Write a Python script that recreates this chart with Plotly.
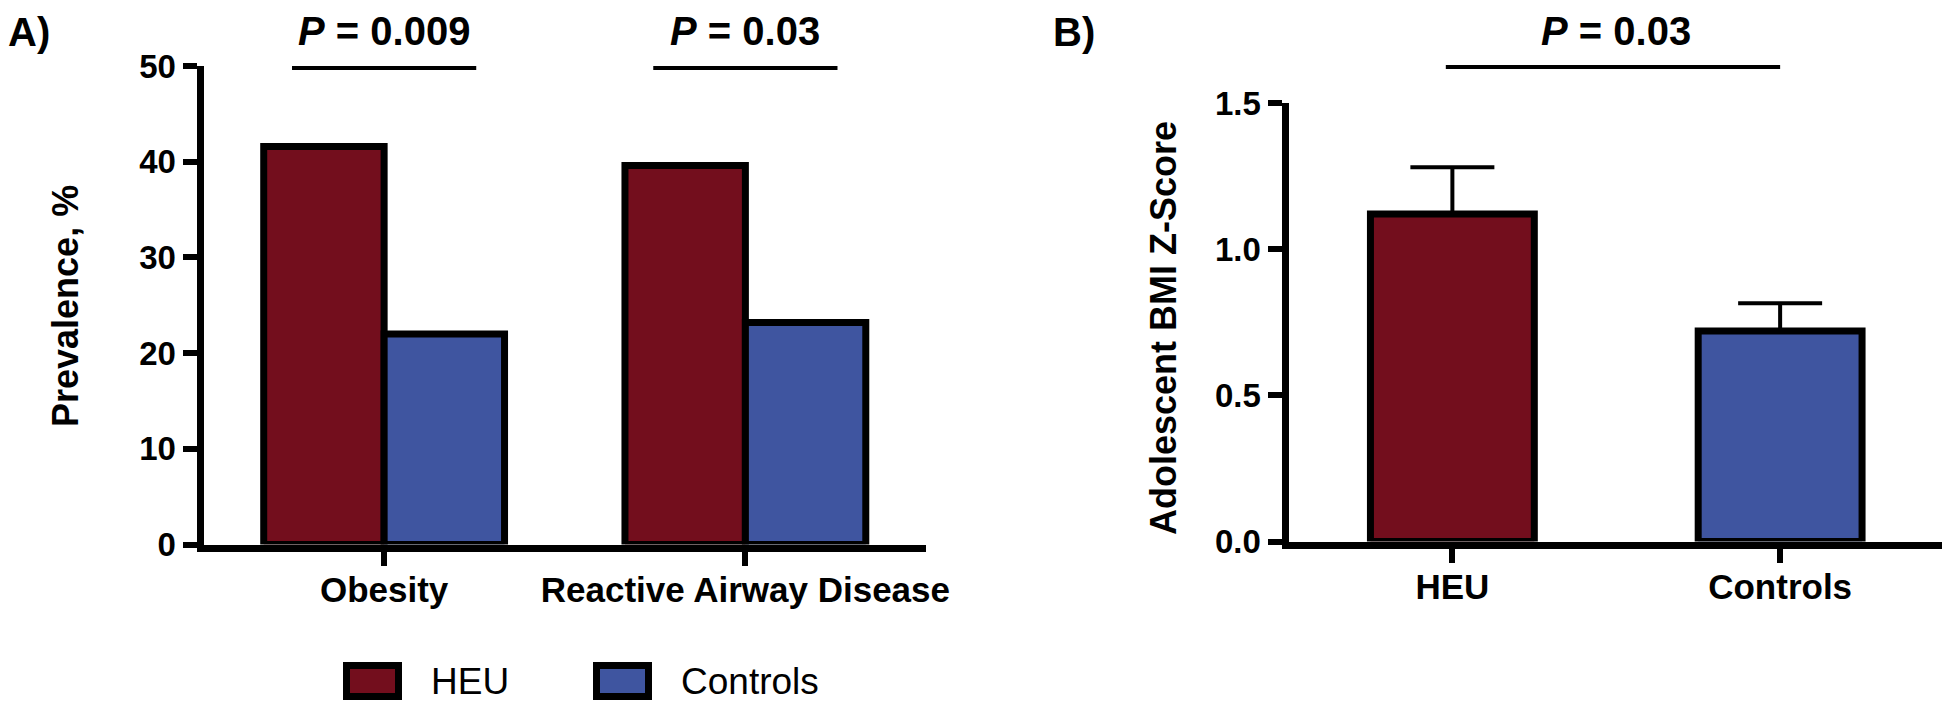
import plotly.graph_objects as go

# ---------------- data ----------------
conditions = ["Obesity", "Reactive Airway Disease"]
heu_prevalence = [41.6, 39.6]
control_prevalence = [22.0, 23.2]
p_values_a = ["0.009", "0.03"]

groups_b = ["HEU", "Controls"]
bmi_z = [1.12, 0.72]
bmi_z_sem = [0.16, 0.095]
p_value_b = "0.03"

y_ticks_a = [0, 10, 20, 30, 40, 50]
y_ticks_b = [0.0, 0.5, 1.0, 1.5]

HEU_COLOR = "#730E1D"
CTRL_COLOR = "#3F55A0"
FONT = "Liberation Sans, Arial, sans-serif"

PAGE_OFFSET = 8  # default body margin of the html page
W, H = 1950 - PAGE_OFFSET, 710 - PAGE_OFFSET


def fx(p):
    return (p - PAGE_OFFSET) / W


def fy(p):
    return 1 - (p - PAGE_OFFSET) / H


fig = go.Figure()

# ---------------- panel A ----------------
fig.add_trace(go.Bar(
    x=conditions, y=heu_prevalence, name="HEU",
    marker=dict(color=HEU_COLOR, line=dict(color="black", width=7)),
    offset=-1 / 3, width=1 / 3, xaxis="x", yaxis="y", showlegend=False,
))
fig.add_trace(go.Bar(
    x=conditions, y=control_prevalence, name="Controls",
    marker=dict(color=CTRL_COLOR, line=dict(color="black", width=7)),
    offset=0, width=1 / 3, xaxis="x", yaxis="y", showlegend=False,
))

# ---------------- panel B ----------------
fig.add_trace(go.Bar(
    x=groups_b, y=bmi_z,
    marker=dict(color=[HEU_COLOR, CTRL_COLOR], line=dict(color="black", width=7)),
    error_y=dict(type="data", symmetric=False, array=bmi_z_sem,
                 arrayminus=[0] * len(bmi_z_sem),
                 color="black", thickness=4, width=42),
    offset=-0.25, width=0.5, xaxis="x2", yaxis="y2", showlegend=False,
))

axis_common = dict(
    showline=True, linecolor="black", linewidth=7,
    ticks="outside", ticklen=14, tickwidth=6, tickcolor="black",
    showgrid=False, zeroline=False, automargin=False,
)

fig.update_layout(
    width=W, height=H,
    margin=dict(l=0, r=0, t=0, b=0),
    paper_bgcolor="white", plot_bgcolor="white",
    barmode="overlay",
    font=dict(family=FONT, color="black"),
    xaxis=dict(domain=[fx(203.5), fx(926)], range=[-0.5, 1.5], type="category",
               anchor="y", ticklabelstandoff=-6,
               tickfont=dict(size=35, weight="bold", family=FONT), **axis_common),
    yaxis=dict(domain=[fy(544.5), fy(66)], range=[0, 50], anchor="x",
               tickvals=y_ticks_a,
               tickfont=dict(size=33, weight="bold", family=FONT), **axis_common),
    xaxis2=dict(domain=[fx(1288.5), fx(1944)], range=[-0.5, 1.5], type="category",
                anchor="y2", ticklabelstandoff=-6,
                tickfont=dict(size=35, weight="bold", family=FONT), **axis_common),
    yaxis2=dict(domain=[fy(541.5), fy(103)], range=[0, 1.5], anchor="x2",
                tickvals=y_ticks_b, tickformat=".1f",
                tickfont=dict(size=33, weight="bold", family=FONT), **axis_common),
)

shapes = []
annotations = []

# significance bars & labels, panel A
for i, pv in enumerate(p_values_a):
    shapes.append(dict(type="line", xref="x", yref="paper",
                       x0=i - 0.255, x1=i + 0.255, y0=fy(68), y1=fy(68),
                       line=dict(color="black", width=4)))
    annotations.append(dict(xref="x", yref="paper", x=i, y=fy(31),
                            text="<b><i>P</i> = " + pv + "</b>", showarrow=False,
                            xanchor="center", yanchor="middle",
                            font=dict(size=40, family=FONT, color="black")))

# panel B significance
shapes.append(dict(type="line", xref="x2", yref="paper",
                   x0=-0.02, x1=1.0, y0=fy(67), y1=fy(67),
                   line=dict(color="black", width=4)))
annotations.append(dict(xref="x2", yref="paper", x=0.5, y=fy(31),
                        text="<b><i>P</i> = " + p_value_b + "</b>", showarrow=False,
                        xanchor="center", yanchor="middle",
                        font=dict(size=40, family=FONT, color="black")))

# axis titles
annotations.append(dict(xref="paper", yref="paper", x=fx(65), y=fy(306),
                        text="<b>Prevalence, %</b>", textangle=-90, showarrow=False,
                        xanchor="center", yanchor="middle",
                        font=dict(size=36, family=FONT, color="black")))
annotations.append(dict(xref="paper", yref="paper", x=fx(1163), y=fy(328),
                        text="<b>Adolescent BMI Z-Score</b>", textangle=-90, showarrow=False,
                        xanchor="center", yanchor="middle",
                        font=dict(size=36, family=FONT, color="black")))

# panel labels
annotations.append(dict(xref="paper", yref="paper", x=fx(29), y=fy(32),
                        text="<b>A)</b>", showarrow=False,
                        xanchor="center", yanchor="middle",
                        font=dict(size=40, family=FONT, color="black")))
annotations.append(dict(xref="paper", yref="paper", x=fx(1074), y=fy(32),
                        text="<b>B)</b>", showarrow=False,
                        xanchor="center", yanchor="middle",
                        font=dict(size=40, family=FONT, color="black")))

# legend (panel A)
legend_items = [("HEU", HEU_COLOR, 343, 429), ("Controls", CTRL_COLOR, 593, 679)]
for label, col, bx, tx in legend_items:
    shapes.append(dict(type="rect", xref="paper", yref="paper",
                       x0=fx(bx + 3.5), x1=fx(bx + 55.5), y0=fy(665.5), y1=fy(696.5),
                       fillcolor=col, line=dict(color="black", width=7)))
    annotations.append(dict(xref="paper", yref="paper", x=fx(tx), y=fy(681),
                            text=label, showarrow=False,
                            xanchor="left", yanchor="middle",
                            font=dict(size=37, family=FONT, color="black")))

fig.update_layout(shapes=shapes, annotations=annotations)

fig.write_html("out.html")
